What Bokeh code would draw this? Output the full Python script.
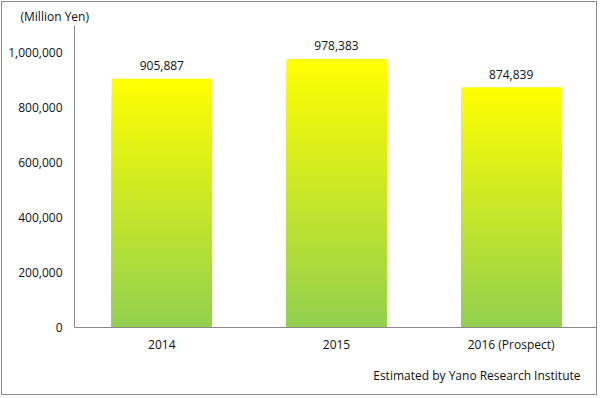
from bokeh.plotting import figure
from bokeh.models import FactorRange, Range1d, NumeralTickFormatter, Title, ColumnDataSource, FixedTicker
from bokeh.core.properties import value
from bokeh.embed import file_html
from bokeh.resources import INLINE

# ---- data ----
categories = ["2014", "2015", "2016 (Prospect)"]
market_size = [905887, 978383, 874839]
value_labels = ["905,887", "978,383", "874,839"]
y_ticks = [0, 200000, 400000, 600000, 800000, 1000000]
unit_label = "(Million Yen)"
source_note = "Estimated by Yano Research Institute"

# ---- style ----
FONT = "Open Sans"
TEXT_COLOR = "#111111"
AXIS_COLOR = "#898989"
TOP_COLOR = (255, 255, 0)
BOTTOM_COLOR = (146, 208, 80)
N_SLICES = 90
BAR_WIDTH = 0.572
Y_MAX = 1100000

W, H = 596, 394
p = figure(width=W, height=H, x_range=FactorRange(factors=categories),
           y_range=Range1d(0, Y_MAX), output_backend="svg", toolbar_location=None,
           min_border_left=72, min_border_right=0, min_border_top=23, min_border_bottom=69)
p.styles = {"border": "1px solid #8a8a8a", "margin-left": "1px", "margin-top": "1px"}
p.outline_line_color = None
p.background_fill_color = "white"
p.border_fill_color = "white"
p.xgrid.grid_line_color = None
p.ygrid.grid_line_color = None

# gradient bars: overlapping, progressively shorter bars from yellow (top) to green (bottom)
def mix(t):
    r = [round(BOTTOM_COLOR[k] + (TOP_COLOR[k] - BOTTOM_COLOR[k]) * t) for k in range(3)]
    return "#%02x%02x%02x" % tuple(r)

xs, tops, cols = [], [], []
for i in range(N_SLICES):
    frac = (N_SLICES - i) / N_SLICES
    for cat, v in zip(categories, market_size):
        xs.append(cat)
        tops.append(v * frac)
        cols.append(mix(frac - 0.5 / N_SLICES))
src = ColumnDataSource(dict(x=xs, top=tops, color=cols))
p.vbar(x="x", bottom=0, top="top", width=BAR_WIDTH, source=src,
       fill_color="color", line_color=None)

lab = ColumnDataSource(dict(x=categories, y=market_size, t=value_labels))
p.text(x="x", y="y", text="t", source=lab, text_align="center", text_baseline="middle",
       y_offset=-13, text_font=value(FONT), text_font_size="12px", text_color=TEXT_COLOR)

# axes
for ax in (p.xaxis[0], p.yaxis[0]):
    ax.axis_line_color = AXIS_COLOR
    ax.major_tick_line_color = None
    ax.minor_tick_line_color = None
    ax.major_tick_out = 0
    ax.major_tick_in = 0
    ax.major_label_text_font = FONT
    ax.major_label_text_font_size = "12px"
    ax.major_label_text_color = TEXT_COLOR
p.yaxis.ticker = FixedTicker(ticks=y_ticks)
p.yaxis.formatter = NumeralTickFormatter(format="0,0")
p.yaxis.major_label_standoff = 12
p.xaxis.major_label_standoff = 8

p.add_layout(Title(text=unit_label, align="left", offset=-54, standoff=2,
                   text_font=FONT, text_font_size="12px", text_font_style="normal",
                   text_color=TEXT_COLOR), "above")
p.add_layout(Title(text=source_note, align="right", offset=18, standoff=18,
                   text_font=FONT, text_font_size="12px", text_font_style="normal",
                   text_color=TEXT_COLOR), "below")

open("out.html", "w").write(file_html(p, INLINE))
